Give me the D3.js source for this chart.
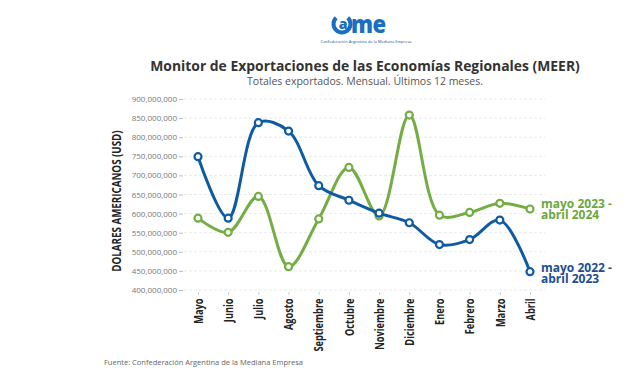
<!DOCTYPE html>
<html>
<head>
<meta charset="utf-8">
<script src="https://cdn.jsdelivr.net/npm/d3@7"></script>
<style>
  body { margin: 0; background: #fff; }
  text { font-family: "Open Sans", "Noto Sans", sans-serif; }
</style>
</head>
<body>
<div id="chart"></div>
<script>
// Data
var months = ["Mayo", "Junio", "Julio", "Agosto", "Septiembre", "Octubre", "Noviembre",
  "Diciembre", "Enero", "Febrero", "Marzo", "Abril"];
var prevYear = [749, 588, 838, 816, 673, 635, 601, 576, 519, 532, 583, 448].map(function(v) { return v * 1e6; });
var lastYear = [588, 551, 645, 461, 586, 721, 594, 858, 596, 603, 627, 612].map(function(v) { return v * 1e6; });
var yTicks = [400, 450, 500, 550, 600, 650, 700, 750, 800, 850, 900].map(function(v) { return v * 1e6; });

var w = 642, h = 384;
var blue = "#0f5ba3", green = "#74ad45";

var svg = d3.select("#chart").append("svg")
  .attr("width", w)
  .attr("height", h);

// logo
var logo = svg.append("g");
logo.append("path")
  .attr("d", d3.arc()({ innerRadius: 6.5, outerRadius: 10.5, startAngle: 0.75, endAngle: 2 * Math.PI - 0.75 }))
  .attr("transform", "translate(342,24)")
  .attr("fill", "#1a6fc0");
logo.append("text")
  .attr("x", 343).attr("y", 29)
  .attr("text-anchor", "middle")
  .attr("font-size", 14).attr("font-weight", 800)
  .attr("fill", "#1a6fc0")
  .text("a");
logo.append("text")
  .attr("transform", "translate(351,33) scale(1.05,1.2)")
  .attr("font-size", 21).attr("font-weight", 800)
  .attr("letter-spacing", -0.5)
  .attr("fill", "#1a6fc0")
  .text("me");
logo.append("text")
  .attr("x", 366).attr("y", 43)
  .attr("text-anchor", "middle")
  .attr("font-size", 4).attr("fill", "#1a4f8f")
  .text("Confederación Argentina de la Mediana Empresa");

// titles
svg.append("text")
  .attr("x", 365).attr("y", 71)
  .attr("text-anchor", "middle")
  .attr("font-size", 13.9).attr("font-weight", 700)
  .attr("fill", "#333")
  .text("Monitor de Exportaciones de las Economías Regionales (MEER)");
svg.append("text")
  .attr("x", 365).attr("y", 85)
  .attr("text-anchor", "middle")
  .attr("font-size", 10.5)
  .attr("fill", "#555")
  .text("Totales exportados. Mensual. Últimos 12 meses.");

//scales
var x = d3.scalePoint().domain(months).range([198, 530]);
var y = d3.scaleLinear().domain([400e6, 900e6]).range([290, 99]);

// grid
svg.append("g").selectAll("line")
  .data(yTicks)
  .enter()
  .append("line")
  .attr("x1", 184).attr("x2", 545)
  .attr("y1", function(d) { return y(d); })
  .attr("y2", function(d) { return y(d); })
  .attr("stroke", "#e4e4e4")
  .attr("stroke-dasharray", "3,2")
  .attr("stroke-width", 0.8);

// y axis
var yAxis = svg.append("g")
  .attr("transform", "translate(183,0)")
  .call(d3.axisLeft(y).tickValues(yTicks).tickSize(4).tickPadding(2).tickFormat(d3.format(",")));
yAxis.select(".domain").remove();
yAxis.selectAll("line").attr("stroke", "#bbb");
yAxis.selectAll("text")
  .attr("font-family", "'Open Sans', sans-serif")
  .attr("font-size", 8).attr("fill", "#777");

// condensed look: squeeze along the text direction
svg.append("text")
  .attr("transform", "translate(121,201) rotate(-90) scale(0.85,1)")
  .attr("text-anchor", "middle")
  .attr("font-size", 11.5).attr("font-weight", 700)
  .attr("fill", "#222")
  .text("DOLARES AMERICANOS (USD)");

// x axis
var xAxis = svg.append("g")
  .attr("transform", "translate(0,292)")
  .call(d3.axisBottom(x).tickSize(3).tickPadding(3));
xAxis.select(".domain").remove();
xAxis.selectAll("line").attr("stroke", "#ccc");
xAxis.selectAll("text")
  .attr("font-size", 12).attr("font-weight", 700)
  .attr("fill", "#222")
  .attr("text-anchor", "end")
  .attr("transform", "rotate(-90) scale(0.77,1)")
  .attr("dx", "-0.7em")
  .attr("dy", "0.35em")
  .attr("x", 0).attr("y", 0);

// lines
var line = d3.line()
  .x(function(d, i) { return x(months[i]); })
  .y(function(d) { return y(d); })
  .curve(d3.curveCatmullRom);

function drawSeries(data, color) {
  svg.append("path")
    .datum(data)
    .attr("d", line)
    .attr("fill", "none")
    .attr("stroke", color)
    .attr("stroke-width", 3);
  svg.append("g").selectAll("circle")
    .data(data)
    .enter()
    .append("circle")
    .attr("cx", function(d, i) { return x(months[i]); })
    .attr("cy", function(d) { return y(d); })
    .attr("r", 3.5)
    .attr("fill", "#fff")
    .attr("stroke", color)
    .attr("stroke-width", 2.2);
}
drawSeries(lastYear, green);
drawSeries(prevYear, blue);

// series labels, one text per line
function seriesLabel(lines, yPos, color) {
  svg.append("g").selectAll("text")
    .data(lines)
    .enter()
    .append("text")
    .attr("x", 541)
    .attr("y", function(d, i) { return yPos + i * 10.5; })
    .attr("font-size", 12).attr("font-weight", 700)
    .attr("fill", color)
    .text(function(d) { return d; });
}
seriesLabel(["mayo 2023 -", "abril 2024"], 208, "#6aa840");
seriesLabel(["mayo 2022 -", "abril 2023"], 272, "#1b4e92");

// source
svg.append("text")
  .attr("x", 104).attr("y", 365)
  .attr("font-size", 7.5).attr("fill", "#666")
  .text("Fuente: Confederación Argentina de la Mediana Empresa");
</script>
</body>
</html>
